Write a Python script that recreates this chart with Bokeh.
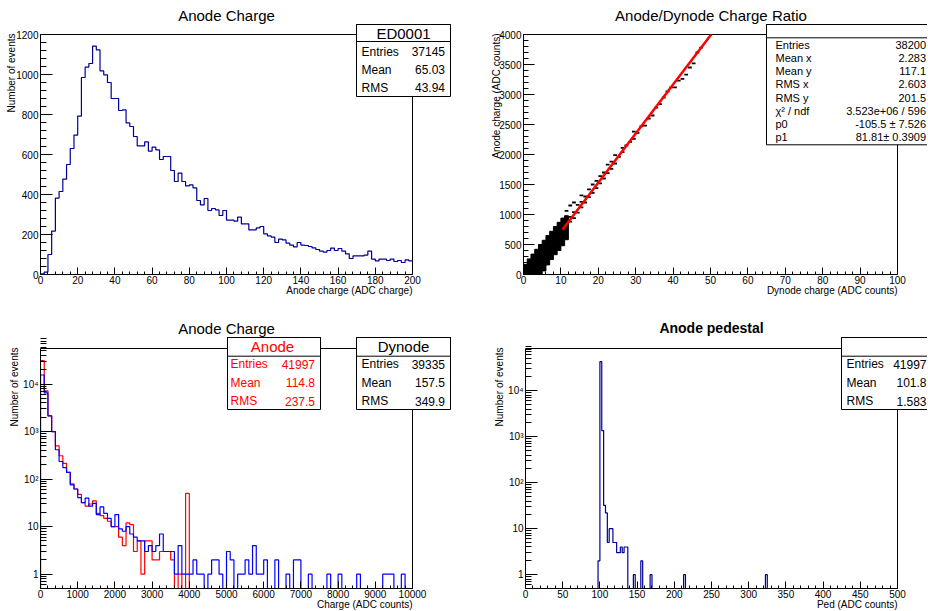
import numpy as np
from bokeh.plotting import figure
from bokeh.models import (Range1d, Label, BoxAnnotation, FixedTicker, Title,
                          SingleIntervalTicker, CustomJSTickFormatter)
from bokeh.layouts import column, row
from bokeh.embed import file_html
from bokeh.resources import INLINE

FONT = "Liberation Sans"

# ---------------- data ----------------
# Panel 1: Anode Charge (ED0001), 100 bins on [0, 200)
anode1_range = (0, 200)
anode1_yrange = (0, 1200)
anode1_counts = [3, 12, 100, 217, 382, 415, 477, 550, 630, 697,
                 792, 985, 1037, 1055, 1142, 1123, 1018, 998, 960, 880,
                 880, 820, 823, 758, 740, 690, 643, 643, 663, 617,
                 637, 623, 575, 590, 590, 520, 465, 507, 465, 443,
                 448, 433, 370, 348, 380, 320, 330, 323, 295, 320,
                 272, 272, 267, 287, 253, 253, 223, 223, 233, 240,
                 203, 193, 187, 160, 177, 173, 157, 147, 138, 160,
                 147, 145, 140, 133, 125, 117, 112, 120, 132, 120,
                 130, 117, 103, 80, 93, 93, 93, 97, 117, 77,
                 68, 77, 77, 70, 77, 65, 70, 60, 73, 68]
anode1_stats = [("Entries", "37145"), ("Mean", "65.03"), ("RMS", "43.94")]

# Panel 2: Anode vs Dynode charge (scatter of 2D histogram)
ratio_xrange = (0, 100)
ratio_yrange = (0, 4000)
ratio_bin_w = 1.0
ratio_blob_x = [0, 1, 2, 3, 4, 5, 6, 7, 8, 9, 10, 11]
ratio_blob_lo = [0, 0, 0, 0, 0, 60, 160, 250, 330, 400, 480, 580]
ratio_blob_hi = [170, 260, 340, 420, 500, 570, 650, 720, 800, 870, 940, 980]
ratio_dash_x = [11, 11, 12, 12, 12, 13, 13, 13, 14, 14, 15, 15, 15, 16, 16, 17, 17, 18, 18,
                19, 19, 20, 20, 21, 21, 22, 22, 23, 23, 24, 24, 25, 26, 26, 27, 28, 29, 29,
                30, 31, 32, 33, 34, 35, 36, 37, 38, 39, 40, 41, 42, 43, 44, 45, 46, 47]
ratio_dash_y = [820, 1060, 880, 960, 1150, 940, 1040, 1200, 1030, 1160, 1120, 1210, 1320,
                1200, 1300, 1290, 1420, 1360, 1500, 1440, 1560, 1520, 1640, 1600, 1700,
                1690, 1830, 1760, 1880, 1850, 1990, 1960, 2040, 2110, 2150, 2210, 2260,
                2380, 2360, 2470, 2480, 2600, 2650, 2780, 2840, 2950, 3050, 3120, 3120,
                3230, 3260, 3330, 3450, 3520, 3700, 3780]
fit_p0, fit_p1 = -105.5, 81.81
fit_x_range = [10.4, 60.0]
ratio_stats = [("Entries", "38200"), ("Mean x", "2.283"), ("Mean y", "117.1"),
               ("RMS x", "2.603"), ("RMS y", "201.5"), ("\u03c7\u00b2 / ndf", "3.523e+06 / 596"),
               ("p0", "-105.5 \u00b1 7.526"), ("p1", "81.81\u00b1 0.3909")]

# Panel 3: Anode (red) and Dynode (blue) charge, 100 bins on [0, 10000)
charge_range = (0, 10000)
charge_yrange = (0.5, 56000)
charge_anode = [31000, 7200, 2150, 1000, 500, 310, 215, 140, 80, 62,
                48, 32, 27, 30, 35, 19, 17, 15, 13, 10,
                10, 6, 4, 12, 11, 3, 5, 1, 5, 5,
                2, 2, 3, 3, 3, 2, 0, 1, 0, 50] + [0] * 60
charge_dynode = [15500, 6500, 2150, 1000, 415, 235, 175, 138, 76, 62,
                 41, 32, 40, 27, 31, 18, 26, 19, 15, 10,
                 18, 9, 8, 10, 7, 6, 5, 5, 3, 4,
                 3, 4, 7, 3, 3, 3, 1, 4, 1, 1,
                 1, 2, 1, 1, 0, 1, 2, 2, 1, 0,
                 3, 2, 0, 1, 1, 2, 1, 4, 1, 1,
                 2, 0, 0, 2, 0, 0, 1, 0, 2, 2,
                 0, 0, 1, 0, 0, 0, 0, 1, 0, 0,
                 1, 0, 0, 0, 0, 1, 0, 0, 0, 0,
                 0, 0, 1, 1, 1, 0, 0, 1, 0, 0]
anode_stats = [("Entries", "41997"), ("Mean", "114.8"), ("RMS", "237.5")]
dynode_stats = [("Entries", "39335"), ("Mean", "157.5"), ("RMS", "349.9")]

# Panel 4: Anode pedestal, 200 bins on [0, 500); only non-empty bins listed
ped_range = (0, 500)
ped_yrange = (0.5, 83000)
ped_bin_w = 2.5
ped_bin_lo = [97.5, 100.0, 102.5, 105.0, 107.5, 110.0, 112.5, 115.0, 117.5, 120.0,
              122.5, 125.0, 127.5, 130.0, 132.5, 135.0, 145.0, 155.0, 167.5, 212.5, 322.5]
ped_counts = [2, 43000, 1360, 32, 22, 5, 10, 10, 5, 5,
              3, 3, 4, 3, 4, 4, 1, 2, 1, 1, 1]
ped_stats = [("Entries", "41997"), ("Mean", "101.8"), ("RMS", "1.583")]

log_major = [1, 10, 100, 1000, 10000]
log_minor = [m * 10.0 ** e for e in range(-1, 5) for m in range(2, 10)]

NAVY = "#000099"


class Panel:
    """A ROOT-like pad. The Bokeh frame starts at the ROOT frame's left/bottom
    edges and extends to the pad's top/right so that titles and stat boxes
    (which overhang the ROOT frame) stay inside the drawable area."""

    def __init__(self, fig_left, fig_top, w, h, frame, xr, yr, ylog=False):
        self.L, self.T, self.R, self.B = frame
        self.fig_left, self.fig_top, self.w, self.h = fig_left, fig_top, w, h
        self.xr, self.yr, self.ylog = xr, yr, ylog
        x_end = self.dx(fig_left + w)
        y_end = self.dy(fig_top)
        self.p = figure(width=w, height=h,
                        x_range=Range1d(xr[0], x_end), y_range=Range1d(yr[0], y_end),
                        y_axis_type="log" if ylog else "linear",
                        toolbar_location=None, output_backend="svg",
                        min_border_left=self.L - fig_left, min_border_right=0,
                        min_border_top=0, min_border_bottom=fig_top + h - self.B)
        p = self.p
        p.outline_line_color = None
        p.xgrid.visible = False
        p.ygrid.visible = False
        p.background_fill_color = "white"
        p.border_fill_color = "white"
        # the pad frame (top and right sides; left/bottom coincide with axes)
        p.quad(left=[xr[0]], right=[xr[1]], bottom=[yr[0]], top=[yr[1]],
               fill_color=None, line_color="black", line_width=1)

    def dx(self, rx):
        x0, x1 = self.xr
        return x0 + (rx - self.L) / (self.R - self.L) * (x1 - x0)

    def dy(self, ry):
        y0, y1 = self.yr
        f = (self.B - ry) / (self.B - self.T)
        if self.ylog:
            return 10 ** (np.log10(y0) + f * (np.log10(y1) - np.log10(y0)))
        return y0 + f * (y1 - y0)

    def text(self, rx, ry, txt, size, align="left", color="black", style="normal"):
        self.p.add_layout(Label(x=self.dx(rx), y=self.dy(ry), text=txt,
                                text_font=FONT, text_font_size=f"{size}px",
                                text_align=align, text_baseline="middle",
                                text_color=color, text_font_style=style))

    def box(self, l, t, r, b, fill=True):
        self.p.add_layout(BoxAnnotation(left=self.dx(l), right=self.dx(r),
                                        top=self.dy(t), bottom=self.dy(b),
                                        fill_color="white" if fill else None,
                                        fill_alpha=1.0 if fill else 0.0,
                                        line_color="black", line_width=1,
                                        line_alpha=1.0))

    def stats(self, l, t, r, b, sep, header, hx, hy, rows, lab_x, val_x, row_y,
              size, hsize=15, color="black"):
        self.box(l, t, r, b)
        self.box(l, t, r, sep, fill=False)
        if header:
            self.text(hx, hy, header, hsize, align="center", color=color)
        for (k, v), yy in zip(rows, row_y):
            self.text(lab_x, yy, k, size, color=color)
            self.text(val_x, yy, v, size, align="right", color=color)

    def axes(self, xint, xtitle, ytitle, yint=None, yminor=5, log=False,
             xt=7, yt=12, ytitle_standoff=0, ytitle_top=None):
        p = self.p
        xa, ya = p.xaxis[0], p.yaxis[0]
        xa.ticker = SingleIntervalTicker(interval=xint, num_minor_ticks=5)
        if log:
            ya.ticker = FixedTicker(ticks=log_major, minor_ticks=log_minor)
            ya.formatter = CustomJSTickFormatter(code="""
                const e = Math.round(Math.log10(tick));
                if (e == 0) return "1";
                if (e == 1) return "10";
                const sup = {"2": "\u00b2", "3": "\u00b3", "4": "\u2074", "5": "\u2075"};
                return "10" + sup[String(e)];
            """)
        else:
            ya.ticker = SingleIntervalTicker(interval=yint, num_minor_ticks=yminor)
        xa.bounds = tuple(self.xr)
        ya.bounds = tuple(self.yr)
        for ax, tl in ((xa, xt), (ya, yt)):
            ax.major_tick_in = tl
            ax.major_tick_out = 0
            ax.minor_tick_in = tl // 2
            ax.minor_tick_out = 0
            ax.major_tick_line_color = "black"
            ax.minor_tick_line_color = "black"
            ax.axis_line_color = "black"
            ax.major_label_text_font = FONT
            ax.major_label_text_font_size = "10px"
            ax.major_label_text_color = "black"
        xa.major_label_standoff = 1
        ya.major_label_standoff = 2
        # axis titles, right-aligned to the ROOT frame ends (as ROOT does)
        fig_right = self.fig_left + self.w
        p.add_layout(Title(text=xtitle, align="right", offset=fig_right - self.R,
                           standoff=-6, vertical_align="middle",
                           text_font=FONT, text_font_size="10px",
                           text_font_style="normal", text_color="black"), "below")
        p.add_layout(Title(text=ytitle, align="right", offset=self.T - self.fig_top - 1,
                           standoff=ytitle_standoff, vertical_align="middle",
                           text_font=FONT, text_font_size="10px",
                           text_font_style="normal", text_color="black"), "left")


def hist_step(panel, lo, hi, counts, color, floor=None, width=1.2):
    counts = np.asarray(counts, dtype=float)
    n = len(counts)
    edges = np.linspace(lo, hi, n + 1)
    ys = np.append(counts, counts[-1])
    base = 0.0 if floor is None else floor
    if floor is not None:
        ys = np.maximum(ys, floor)
    xs = np.concatenate([[lo], edges])
    ys = np.concatenate([[base], ys])
    panel.p.step(xs, ys, mode="after", line_color=color, line_width=width)


# ---------------- Panel 1 ----------------
P1 = Panel(0, 0, 464, 304, (40, 34, 412, 274), anode1_range, anode1_yrange)
P1.axes(20, "Anode charge (ADC charge)", "Number of events", yint=200,
        ytitle_standoff=-8)
hist_step(P1, *anode1_range, anode1_counts, NAVY)
P1.text(226, 15, "Anode Charge", 15, align="center")
P1.stats(356, 24, 450, 96, 41, "ED0001", 403, 32.5, anode1_stats,
         361, 444.5, [51.3, 69, 87], 12)

# ---------------- Panel 2 ----------------
P2 = Panel(464, 0, 463, 304, (523, 34, 897, 274), ratio_xrange, ratio_yrange)
P2.axes(10, "Dynode charge (ADC counts)", "Anode charge (ADC counts)", yint=500,
        yt=11, ytitle_standoff=-12)
bx = np.array(ratio_blob_x, dtype=float)
P2.p.quad(left=bx, right=bx + ratio_bin_w, bottom=ratio_blob_lo, top=ratio_blob_hi,
          fill_color="black", line_color="black", line_width=1)
dxs = np.array(ratio_dash_x, dtype=float)
P2.p.segment(x0=dxs, y0=ratio_dash_y, x1=dxs + ratio_bin_w, y1=ratio_dash_y,
             line_color="black", line_width=1.8)
fx_hi = min(fit_x_range[1], (ratio_yrange[1] - fit_p0) / fit_p1)
fx = np.array([fit_x_range[0], fx_hi])
P2.p.line(fx, fit_p0 + fit_p1 * fx, line_color="#ff0000", line_width=2.5)
P2.text(710.5, 15, "Anode/Dynode Charge Ratio", 15, align="center")
P2.stats(766, 24, 960, 144.3, 37.3, "", 0, 0, ratio_stats,
         775, 925.5, [44, 57, 70.5, 83.5, 97, 110, 123.5, 136.5], 11)

# ---------------- Panel 3 ----------------
P3 = Panel(0, 304, 464, 306, (40, 348, 412, 588), charge_range, charge_yrange, ylog=True)
P3.axes(1000, "Charge (ADC counts)", "Number of events", log=True,
        ytitle_standoff=0)
hist_step(P3, *charge_range, charge_anode, "#ff0000", floor=charge_yrange[0])
hist_step(P3, *charge_range, charge_dynode, "#0000ff", floor=charge_yrange[0])
P3.text(226, 327.5, "Anode Charge", 15, align="center")
P3.stats(227, 337, 320, 409, 355.7, "Anode", 272, 345.5, anode_stats,
         230, 314.5, [363.7, 382.3, 400.7], 12, color="#ff0000")
P3.stats(356, 337, 450, 409, 355.7, "Dynode", 403, 345.5, dynode_stats,
         361, 444.5, [363.7, 382.3, 400.7], 12)

# ---------------- Panel 4 ----------------
nped = int(round((ped_range[1] - ped_range[0]) / ped_bin_w))
ped_full = np.zeros(nped)
for xlo, c in zip(ped_bin_lo, ped_counts):
    ped_full[int(round((xlo - ped_range[0]) / ped_bin_w))] = c
P4 = Panel(464, 304, 463, 306, (525, 348, 897, 588), ped_range, ped_yrange, ylog=True)
P4.axes(50, "Ped (ADC counts)", "Number of events", log=True, ytitle_standoff=0)
hist_step(P4, *ped_range, ped_full, NAVY, floor=ped_yrange[0])
P4.text(711, 327.5, "Anode pedestal", 14, align="center", style="bold")
P4.stats(841, 337, 960, 409, 355.7, "", 0, 0, ped_stats,
         846, 926, [363.7, 382.3, 400.7], 12)

layout = column(row(P1.p, P2.p), row(P3.p, P4.p))
open("out.html", "w").write(file_html(layout, INLINE))
